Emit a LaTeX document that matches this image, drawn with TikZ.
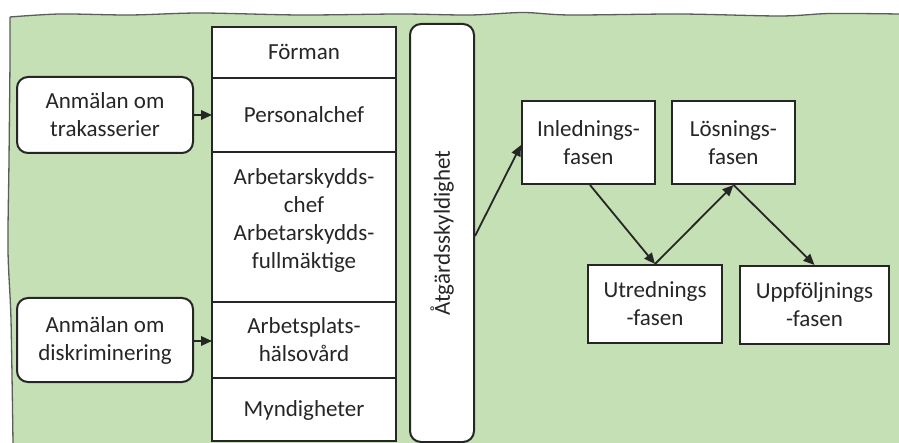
\documentclass[tikz,border=0pt]{standalone}
\usepackage{fontspec}
\setmainfont{Carlito}
\usetikzlibrary{arrows.meta}
\definecolor{bggreen}{HTML}{C5E0B4}
\definecolor{ink}{HTML}{262626}
\begin{document}
\begin{tikzpicture}[x=1pt,y=-1pt,
  lbl/.style={font=\fontsize{23}{28}\selectfont, text=ink, align=center},
  cell/.style={draw=ink, line width=2pt, fill=white},
  roundbox/.style={draw=ink, line width=2pt, fill=white, rounded corners=11pt},
  phase/.style={draw=ink, line width=2pt, fill=white},
  link/.style={draw=ink, line width=1.8pt, -{Triangle[length=11pt,width=9.5pt]}}]
\useasboundingbox (0,0) rectangle (899,443);
% green background with hand-drawn top and left edges
\fill[bggreen] plot[smooth] coordinates {(13,443) (11,320) (8,250) (9,160) (10,60) (10,17)}
  -- plot[smooth] coordinates {(10,17) (60,14) (130,15) (200,13) (300,15) (400,14) (470,15) (523,12.5) (570,15) (680,14) (780,16) (830,13.5) (899,14)}
  -- (899,443) -- cycle;
\draw[ink!75, line width=1.3pt] plot[smooth] coordinates {(13,443) (11,320) (8,250) (9,160) (10,60) (10,17)};
\draw[ink!75, line width=1.3pt] plot[smooth] coordinates {(10,17) (60,14) (130,15) (200,13) (300,15) (400,14) (470,15) (523,12.5) (570,15) (680,14) (780,16) (830,13.5) (899,14)};

% column of responsible parties
\draw[cell] (212,27) rectangle (396,78);
\node[lbl] (forman) at (304,52) {Förman};
\draw[cell] (212,78) rectangle (396,152);
\node[lbl] (personal) at (304,115) {Personalchef};
\draw[cell] (212,152) rectangle (396,302);
\node[lbl] (arbskydd) at (304,220) {Arbetarskydds-\\chef\\Arbetarskydds-\\fullmäktige};
\draw[cell] (212,302) rectangle (396,378);
\node[lbl] (halso) at (304,340) {Arbetsplats-\\hälsovård};
\draw[cell] (212,378) rectangle (396,441);
\node[lbl] (myndig) at (304,410) {Myndigheter};
\coordinate (colA) at (212,115);
\coordinate (colB) at (212,341);

% reports
\node[roundbox, lbl, minimum width=176pt, minimum height=76pt] (trak) at (105,115) {Anmälan om\\trakasserier};
\node[roundbox, lbl, minimum width=176pt, minimum height=84pt] (disk) at (105,340) {Anmälan om\\diskriminering};
\draw[link] (trak.east) -- (colA);
\draw[link] (disk.east |- colB) -- (colB);

% obligation to act
\node[roundbox, minimum width=64pt, minimum height=418pt] (atgard) at (442,233) {};
\node[lbl, rotate=90] at (atgard.center) {Åtgärdsskyldighet};

% phases
\node[phase, lbl, minimum width=133pt, minimum height=83pt] (inl) at (588.5,142.5) {Inlednings-\\fasen};
\node[phase, lbl, minimum width=123pt, minimum height=83pt] (los) at (733.5,142.5) {Lösnings-\\fasen};
\node[phase, lbl, minimum width=134pt, minimum height=78pt] (utr) at (655,304) {Utrednings\\-fasen};
\node[phase, lbl, minimum width=149pt, minimum height=78pt] (upp) at (814.5,305) {Uppföljnings\\-fasen};

\draw[link] ([yshift=-3pt]atgard.east) -- ([yshift=-2.5pt]inl.west);
\draw[link] ([xshift=1.5pt]inl.south) -- (utr.north);
\draw[link] (utr.north) -- (los.south);
\draw[link] (los.south) -- (upp.north);
\end{tikzpicture}
\end{document}
